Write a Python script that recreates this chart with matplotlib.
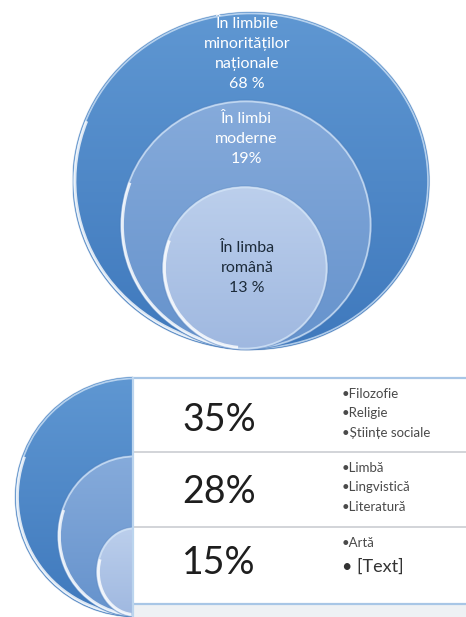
import numpy as np
import matplotlib
matplotlib.use("Agg")
import matplotlib.pyplot as plt
from matplotlib.patches import Ellipse, Arc, Rectangle
from matplotlib.colors import to_rgb

# ---------------- data ----------------
top_labels = ["În limbile\nminorităților\nnaționale", "În limbi\nmoderne", "În limba\nromână"]
top_values = [68, 19, 13]
top_value_labels = ["68 %", "19%", "13 %"]

bottom_values = [35, 28, 15]
bottom_value_labels = ["35%", "28%", "15%"]
bottom_items = [["Filozofie", "Religie", "Științe sociale"],
                ["Limbă", "Lingvistică", "Literatură"],
                ["Artă", "[Text]"]]

plt.rcParams['font.family'] = ['Lato', 'DejaVu Sans']

W, H = 466, 617
fig = plt.figure(figsize=(W / 100, H / 100), dpi=100)
ax = fig.add_axes([0, 0, 1, 1])


def grad_ellipse(cx, cy, w, h, ctop, cbot, z):
    e = Ellipse((cx, cy), w, h, fc='none', ec='none', zorder=z)
    ax.add_patch(e)
    t = np.linspace(0, 1, 200)[:, None, None]
    img = (1 - t) * np.array(to_rgb(ctop)) + t * np.array(to_rgb(cbot))
    img = np.repeat(img, 2, axis=1)
    im = ax.imshow(img, extent=(cx - w / 2, cx + w / 2, cy + h / 2, cy - h / 2),
                   aspect='auto', zorder=z, interpolation='bilinear')
    im.set_clip_path(e)
    # rim
    ax.add_patch(Ellipse((cx, cy), w, h, fc='none', ec='#3a70b0', lw=0.8, alpha=0.25, zorder=z + 0.1))
    ax.add_patch(Ellipse((cx, cy), w - 3, h - 3, fc='none', ec='#d4e6f8', lw=1.2, alpha=0.75, zorder=z + 0.2))
    ax.add_patch(Arc((cx, cy), w - 5, h - 5, theta1=95, theta2=200, color='white', lw=2.0,
                     alpha=0.8, zorder=z + 0.3))


fills = [("#5f97d2", "#3f79bd"), ("#86abdb", "#6592cc"), ("#bccfec", "#9fb8e0")]

# ---------------- top nested circles ----------------
top_geom = [(251, 181, 357, 338), (246, 225, 252, 250), (245, 268, 166, 164)]
for i, (cx, cy, w, h) in enumerate(top_geom):
    grad_ellipse(cx, cy, w, h, fills[i][0], fills[i][1], 2 + i)

text_pos = [(247, 54), (246, 139), (247, 268)]
text_col = ['white', 'white', '#1c2b3a']
for i in range(3):
    ax.text(text_pos[i][0], text_pos[i][1], top_labels[i] + "\n" + top_value_labels[i],
            ha='center', va='center', fontsize=11.5, color=text_col[i],
            linespacing=1.55, zorder=10)

# ---------------- bottom: nested half circles + table ----------------
bot_geom = [(135, 497, 240, 240), (135, 536, 156, 162), (135, 572, 78, 90)]
for i, (cx, cy, w, h) in enumerate(bot_geom):
    grad_ellipse(cx, cy, w, h, fills[i][0], fills[i][1], 2 + i)

ax.add_patch(Rectangle((133, 374), W - 133, H - 374, fc='white', ec='none', zorder=6))
ax.add_patch(Rectangle((133, 605), W - 133, 12, fc='#eef1f4', ec='none', zorder=6.1))
ax.plot([133, W], [378, 378], color='#a8c6e6', lw=1.6, zorder=7)
ax.plot([133, W], [604, 604], color='#a8c6e6', lw=1.6, zorder=7)
for y in [452, 527]:
    ax.plot([133, W], [y, y], color='#d2d4d8', lw=1.4, zorder=7)
ax.plot([133, 133], [378, H], color='#bcd5ee', lw=1.6, zorder=7)

row_y = [420, 492, 563]
for i in range(3):
    ax.text(219, row_y[i], bottom_value_labels[i], ha='center', va='center',
            fontsize=27, color='#1e1e1e', zorder=10)

item_y = [[394, 413, 433], [468, 487, 507], [543, 567]]
for i in range(3):
    for j, item in enumerate(bottom_items[i]):
        big = item == "[Text]"
        ax.text(342, item_y[i][j], ("• " if big else "•") + item, ha='left', va='center',
                fontsize=13 if big else 9.5, color='#333333' if big else '#4a4a4a', zorder=10)

ax.set_xlim(0, W)
ax.set_ylim(H, 0)
ax.axis('off')
fig.savefig("out.png", dpi=100, facecolor='white')
